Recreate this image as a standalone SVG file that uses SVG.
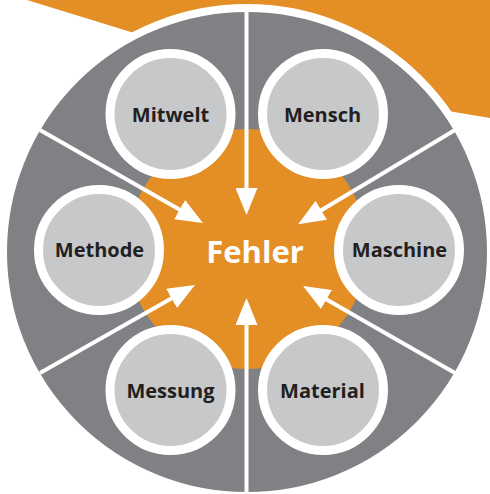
<svg xmlns="http://www.w3.org/2000/svg" width="490" height="494" viewBox="0 0 490 494">
<style>
.lbl{font-family:"Open Sans","Liberation Sans",sans-serif;font-weight:700;font-size:20px;fill:#231f20;text-anchor:middle}
.ring{fill:#c7c8ca;stroke:#ffffff;stroke-width:9}
.conn{stroke:#ffffff;stroke-width:4;fill:none}
</style>
<defs>
<marker id="ah" viewBox="0 0 27 22" refX="17" refY="11" markerWidth="27" markerHeight="22" markerUnits="userSpaceOnUse" orient="auto">
<path d="M0,0 L27,11 L0,22 z" fill="#ffffff"/>
</marker>
</defs>
<rect width="490" height="494" fill="#ffffff"/>
<polygon points="27,0 490,0 490,118 400,103 247,120 160,41" fill="#e38f25"/>
<circle cx="247" cy="252" r="244" fill="#808184" stroke="#ffffff" stroke-width="8"/>
<circle cx="247" cy="249" r="120" fill="#e38f25"/>
<g id="connectors">
<line class="conn" x1="246.5" y1="8" x2="246.5" y2="205" marker-end="url(#ah)"/>
<line class="conn" x1="246.5" y1="492" x2="246.5" y2="308" marker-end="url(#ah)"/>
<line class="conn" x1="40" y1="130" x2="194.3" y2="218" marker-end="url(#ah)"/>
<line class="conn" x1="40" y1="373" x2="186.3" y2="290" marker-end="url(#ah)"/>
<line class="conn" x1="455" y1="130" x2="306.7" y2="219" marker-end="url(#ah)"/>
<line class="conn" x1="455" y1="373" x2="311.7" y2="291" marker-end="url(#ah)"/>
</g>
<g id="fehler">
<text x="255" y="263" style="font-family:'Open Sans','Liberation Sans',sans-serif;font-weight:700;font-size:31px;fill:#ffffff;text-anchor:middle">Fehler</text>
</g>
<g id="mitwelt"><circle class="ring" cx="170.5" cy="114" r="60.5"/><text class="lbl" x="170.5" y="122">Mitwelt</text></g>
<g id="mensch"><circle class="ring" cx="323" cy="114" r="60.5"/><text class="lbl" x="322.5" y="122">Mensch</text></g>
<g id="methode"><circle class="ring" cx="99" cy="250" r="60.5"/><text class="lbl" x="99.5" y="257">Methode</text></g>
<g id="maschine"><circle class="ring" cx="399" cy="250" r="60.5"/><text class="lbl" x="399.5" y="257">Maschine</text></g>
<g id="messung"><circle class="ring" cx="170.5" cy="390" r="60.5"/><text class="lbl" x="170.5" y="398">Messung</text></g>
<g id="material"><circle class="ring" cx="323" cy="390" r="60.5"/><text class="lbl" x="322.5" y="398">Material</text></g>
</svg>
